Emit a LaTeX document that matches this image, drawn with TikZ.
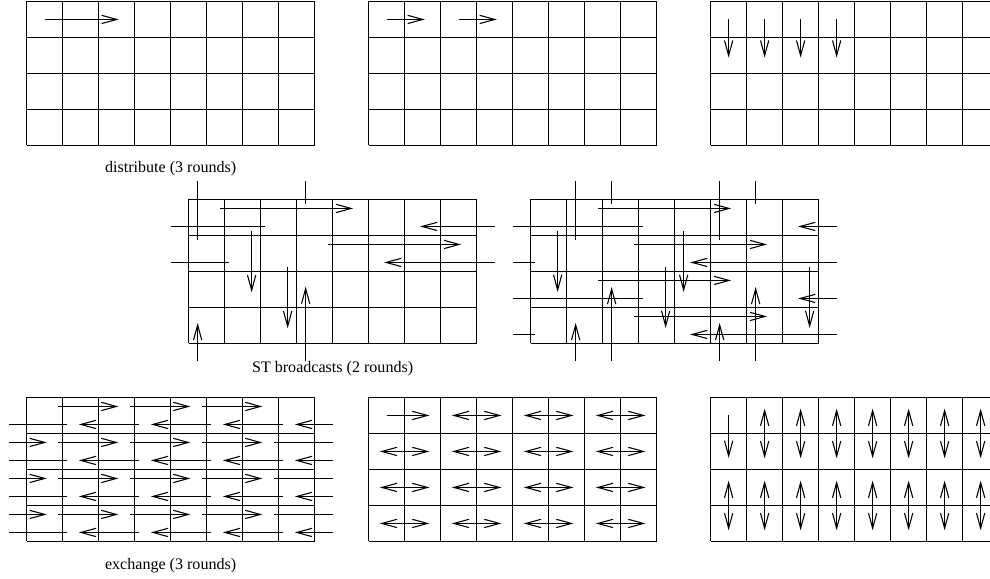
\documentclass[tikz,border=0pt]{standalone}
\usepackage{fontspec}
\setmainfont{Liberation Serif}
\usetikzlibrary{arrows.meta}
\begin{document}
\begin{tikzpicture}[yscale=-1,line width=0.85pt,>={Straight Barb[length=4.2mm,width=2.3mm]},
 caption/.style={font=\fontsize{12.7}{15}\selectfont}]
\useasboundingbox (0,0) rectangle (27.5,16.083);
\begin{scope}[shift={(0.74,0.04)}]
\draw (0,0) grid (8,4);
\draw[->] (0.5,0.5)--(2.56,0.5);
\node[caption] (distlbl) at (4,4.65) {distribute (3 rounds)};
\end{scope}
\begin{scope}[shift={(10.24,0.04)}]
\draw (0,0) grid (8,4);
\foreach \x in {0.5,2.5}{\draw[->] (\x,0.5)--(\x+1.06,0.5);}
\end{scope}
\begin{scope}[shift={(19.74,0.04)}]
\draw (0,0) grid (8,4);
\foreach \x in {0.5,1.5,2.5,3.5}{\draw[->] (\x,0.5)--(\x,1.56);}
\end{scope}
\begin{scope}[shift={(5.24,5.54)}]
\draw (0,0) grid (8,4);
\foreach \x/\ya/\yb in {0.25/-0.5/1.125,3.25/-0.5/0.125}{\draw (\x,\ya)--(\x,\yb);}
\foreach \y/\xa/\xb in {0.75/-0.5/2.125,1.75/-0.5/1.125}{\draw (\xa,\y)--(\xb,\y);}
\foreach \y/\xa/\xb in {0.25/0.875/4.57,0.75/8.5/6.43,1.25/3.875/7.57,1.75/8.5/5.43}{\draw[->] (\xa,\y)--(\xb,\y);}
\foreach \x/\ya/\yb in {1.75/0.875/2.58,2.75/1.875/3.58,3.25/4.5/2.42,0.25/4.5/3.43}{\draw[->] (\x,\ya)--(\x,\yb);}
\node[caption] (stlbl) at (4,4.69) {ST broadcasts (2 rounds)};
\end{scope}
\begin{scope}[shift={(14.74,5.54)}]
\draw (0,0) grid (8,4);
\foreach \x/\ya/\yb in {1.25/-0.5/1.125,2.25/-0.5/0.125,5.25/-0.5/1.125,6.25/-0.5/0.125}{\draw (\x,\ya)--(\x,\yb);}
\foreach \y/\xb in {0.75/3.125,1.75/0.125,2.75/3.125,3.75/0.125}{\draw (-0.5,\y)--(\xb,\y);}
\foreach \y/\xa/\xb in {0.25/1.875/5.57,1.25/2.875/6.57,2.25/1.875/5.57,3.25/2.875/6.57,0.75/8.5/7.43,1.75/8.5/4.43,2.75/8.5/7.43,3.75/8.5/4.43}{\draw[->] (\xa,\y)--(\xb,\y);}
\foreach \x/\ya/\yb in {0.75/0.875/2.57,4.25/0.875/2.57,3.75/1.875/3.57,7.75/1.875/3.57,2.25/4.5/2.43,6.25/4.5/2.43,1.25/4.5/3.43,5.25/4.5/3.43}{\draw[->] (\x,\ya)--(\x,\yb);}
\end{scope}
\begin{scope}[shift={(0.74,11.04)}]
\draw (0,0) grid (8,4);
\foreach \k in {0,...,3}{
 \foreach \j in {0,2,4}{\draw[->] (\j+0.875,\k+0.25)--(\j+2.55,\k+0.25); \draw[->] (\j+3.125,\k+0.75)--(\j+1.45,\k+0.75);}
 \draw (-0.5,\k+0.75)--(1.125,\k+0.75);
 \draw[->] (8.5,\k+0.75)--(7.45,\k+0.75);}
\foreach \k in {1,2,3}{\draw[->] (-0.5,\k+0.25)--(0.56,\k+0.25); \draw (6.875,\k+0.25)--(8.5,\k+0.25);}
\node[caption] (exchlbl) at (4,4.66) {exchange (3 rounds)};
\end{scope}
\begin{scope}[shift={(10.24,11.04)}]
\draw (0,0) grid (8,4);
\draw[->] (0.5,0.5)--(1.69,0.5);
\foreach \j in {2,4,6}{\draw[<->] (\j+0.31,0.5)--(\j+1.69,0.5);}
\foreach \k in {1,2,3}{\foreach \j in {0,2,4,6}{\draw[<->] (\j+0.31,\k+0.5)--(\j+1.69,\k+0.5);}}
\end{scope}
\begin{scope}[shift={(19.74,11.04)}]
\draw (0,0) grid (8,4);
\draw[->] (0.5,0.5)--(0.5,1.68);
\foreach \c in {1,...,7}{\draw[<->] (\c+0.5,0.31)--(\c+0.5,1.69);}
\foreach \c in {0,...,7}{\draw[<->] (\c+0.5,2.31)--(\c+0.5,3.69);}
\end{scope}
\end{tikzpicture}
\end{document}
